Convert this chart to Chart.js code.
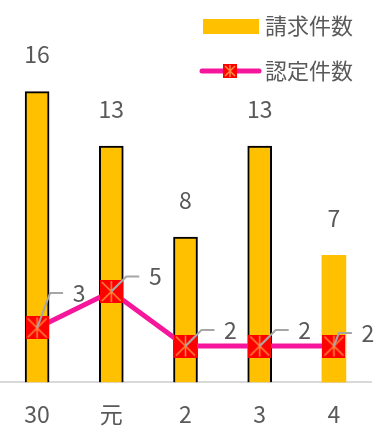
<!DOCTYPE html>
<html>
<head>
<meta charset="utf-8">
<script src="https://cdn.jsdelivr.net/npm/chart.js@4"></script>
<style>
  html, body { margin: 0; padding: 0; background: #fff; }
  #wrap { width: 378px; height: 429px; }
</style>
</head>
<body>
<div id="wrap"><canvas id="chart"></canvas></div>
<script>
// data
const years = ['30', '元', '2', '3', '4'];
const claims = [16, 13, 8, 13, 7];      // 請求件数
const approved = [3, 5, 2, 2, 2];       // 認定件数

const FONT = "'Noto Sans CJK JP', 'Noto Sans', sans-serif";
const TEXT = '#595959';

// square marker with an asterisk, like the Excel one
function makeMarker(s) {
  const c = document.createElement('canvas');
  c.width = s; c.height = s;
  const g = c.getContext('2d');
  g.fillStyle = '#FF0000';
  g.fillRect(0, 0, s, s);
  g.strokeStyle = '#FF8A3D';
  g.lineWidth = 1.5;
  g.beginPath();
  g.moveTo(2, 2); g.lineTo(s - 2, s - 2);
  g.moveTo(s - 2, 2); g.lineTo(2, s - 2);
  g.moveTo(s / 2, 1); g.lineTo(s / 2, s - 1);
  g.stroke();
  return c;
}
const marker = makeMarker(23);
const legendMarker = makeMarker(14);

// where the line labels sit, relative to each point (hand placed in the original)
const lineLabelDx = [42, 44, 45, 45, 34];
const lineLabelDy = [-35, -15, -16, -16, -13];

// value labels
const valueLabels = {
  id: 'valueLabels',
  afterDatasetsDraw(chart) {
    const { ctx } = chart;
    ctx.save();
    ctx.font = '23px ' + FONT;
    ctx.fillStyle = TEXT;
    ctx.textAlign = 'center';
    ctx.textBaseline = 'middle';

    // bars
    chart.getDatasetMeta(0).data.forEach((bar, i) => {
      ctx.fillText(claims[i], bar.x, bar.y - 37);
    });

    // line points, with leader lines
    chart.getDatasetMeta(1).data.forEach((pt, i) => {
      const lx = pt.x + lineLabelDx[i], ly = pt.y + lineLabelDy[i];
      ctx.strokeStyle = '#A6A6A6';
      ctx.lineWidth = 2;
      ctx.beginPath();
      ctx.moveTo(pt.x, pt.y);
      ctx.lineTo(lx - 29, ly);
      ctx.lineTo(lx - 16, ly);
      ctx.stroke();
      ctx.fillText(approved[i], lx, ly);
    });
    ctx.restore();
  },
  afterDraw(chart) {
    // legend, top right
    const { ctx } = chart;
    ctx.save();
    ctx.fillStyle = '#FFC000';
    ctx.fillRect(203, 19, 56, 15);

    ctx.strokeStyle = '#F5169C';
    ctx.lineWidth = 5;
    ctx.lineCap = 'round';
    ctx.beginPath();
    ctx.moveTo(202, 71);
    ctx.lineTo(259, 71);
    ctx.stroke();
    ctx.drawImage(legendMarker, 223, 64);

    ctx.font = '22px ' + FONT;
    ctx.fillStyle = TEXT;
    ctx.textBaseline = 'middle';
    ctx.fillText('請求件数', 265, 26);
    ctx.fillText('認定件数', 265, 71);
    ctx.restore();
  }
};

new Chart(document.getElementById('chart'), {
  data: {
    labels: years,
    datasets: [
      {
        type: 'bar',
        label: '請求件数',
        data: claims,
        backgroundColor: '#FFC000',
        borderColor: '#000000',
        borderWidth: [2, 2, 2, 2, 0],
        borderSkipped: 'bottom',
        barThickness: 24,
        order: 2
      },
      {
        type: 'line',
        label: '認定件数',
        data: approved,
        borderColor: '#F5169C',
        borderWidth: 5,
        pointStyle: marker,
        pointRadius: 11,
        order: 1
      }
    ]
  },
  options: {
    responsive: true,
    maintainAspectRatio: false,
    animation: false,
    layout: { autoPadding: false, padding: { left: 0, right: 7, top: 19, bottom: -17 } },
    plugins: {
      legend: { display: false },
      tooltip: { enabled: false }
    },
    scales: {
      x: {
        grid: { display: false, drawTicks: false },
        border: { display: true, color: '#D9D9D9', width: 2 },
        ticks: { color: TEXT, font: { size: 23, family: FONT }, padding: 18 },
        afterFit(scale) {
          scale.paddingLeft = 0;
          scale.paddingRight = 0;
        }
      },
      y: {
        display: false,
        min: 0,
        max: 20
      }
    }
  },
  plugins: [valueLabels]
});
</script>
</body>
</html>
